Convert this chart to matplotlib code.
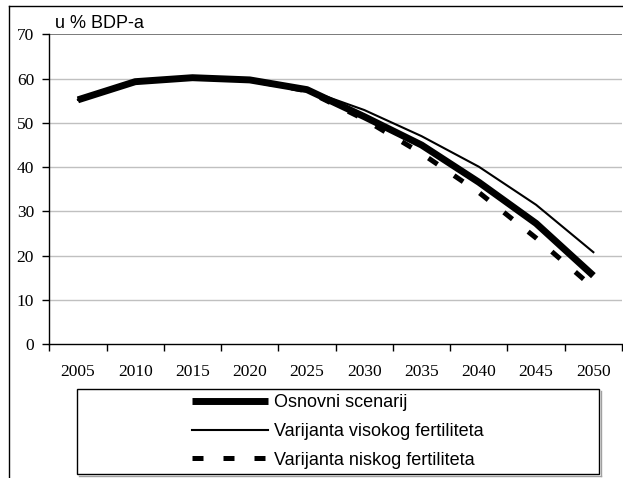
import matplotlib
matplotlib.use("Agg")
import matplotlib.pyplot as plt
from matplotlib.lines import Line2D
from matplotlib.patches import Rectangle
import numpy as np

years = ["2005", "2010", "2015", "2020", "2025", "2030", "2035", "2040", "2045", "2050"]
osnovni = [55.2, 59.3, 60.2, 59.7, 57.5, 51.4, 45.0, 36.6, 27.3, 15.5]
visoki = [55.2, 59.3, 60.2, 59.7, 57.5, 52.9, 47.0, 40.1, 31.5, 20.8]
niski = [55.2, 59.3, 60.2, 59.7, 57.2, 50.8, 43.1, 34.3, 24.0, 12.8]
labels = ["Osnovni scenarij", "Varijanta visokog fertiliteta", "Varijanta niskog fertiliteta"]
yticks = [0, 10, 20, 30, 40, 50, 60, 70]
ylabel = "u % BDP-a"

W, H = 623, 478
fig = plt.figure(figsize=(W / 100, H / 100), dpi=100)

ax = fig.add_axes([49.3 / W, 1 - 344.3 / H, (622 - 49.3) / W, (344.3 - 34.3) / H])
x = np.arange(len(years))

l1, = ax.plot(x, osnovni, color="black", lw=5.0, solid_capstyle="butt", solid_joinstyle="round", zorder=3)
l2, = ax.plot(x, visoki, color="black", lw=1.5, zorder=4)
l3, = ax.plot(x, niski, color="black", lw=3.6, dashes=(2.2, 4.0), dash_capstyle="butt", zorder=5)

ax.set_xlim(-0.5, len(years) - 0.5)
ax.set_ylim(0, 70)
ax.set_yticks(yticks)
ax.set_yticklabels([str(v) for v in yticks], fontfamily="Liberation Serif", fontsize=12.5)
ax.set_xticks(x)
ax.set_xticklabels(years, fontfamily="Liberation Serif", fontsize=12.5)
ax.set_xticks(np.arange(len(years) + 1) - 0.5, minor=True)
ax.tick_params(axis="x", which="major", length=0, pad=14)
ax.tick_params(axis="x", which="minor", length=5, width=1, direction="out", color="black")
ax.tick_params(axis="y", length=5, width=1, direction="out", pad=6, color="black")

for v in yticks[1:-1]:
    ax.axhline(v, color="#c0c0c0", lw=1, zorder=1)
ax.axhline(70, color="#707070", lw=1.3, zorder=1)

ax.spines["top"].set_visible(False)
ax.spines["right"].set_visible(False)
ax.spines["left"].set_color("black")
ax.spines["bottom"].set_color("black")
ax.spines["left"].set_linewidth(1)
ax.spines["bottom"].set_linewidth(1)

fig.text(55 / W, 1 - 28.3 / H, ylabel, fontfamily="Liberation Sans", fontsize=13, va="baseline", ha="left")

# figure border (left and top)
fig.add_artist(Line2D([9 / W, 9 / W], [0, 1 - 6 / H], transform=fig.transFigure, color="black", lw=1))
fig.add_artist(Line2D([9 / W, 1], [1 - 6 / H, 1 - 6 / H], transform=fig.transFigure, color="black", lw=1))

# legend frame with slight shadow on right and bottom
fig.add_artist(Line2D([600.5 / W, 600.5 / W], [1 - 476 / H, 1 - 391 / H], transform=fig.transFigure,
                      color="#a0a0a0", lw=1))
fig.add_artist(Line2D([79 / W, 600.5 / W], [1 - 475.5 / H, 1 - 475.5 / H], transform=fig.transFigure,
                      color="#a0a0a0", lw=1))
fig.add_artist(Rectangle((77 / W, 1 - 474 / H), (599 - 77) / W, (474 - 389) / H,
                         transform=fig.transFigure, fill=False, edgecolor="black", lw=1))

leg = fig.legend([l1, l2, l3], labels, loc="center", bbox_to_anchor=(338 / W, 1 - 431.5 / H),
                 frameon=False, prop={"family": "Liberation Sans", "size": 13},
                 handlelength=4.2, handletextpad=0.35, labelspacing=0.65, borderpad=0)

fig.savefig("out.png", dpi=100)
